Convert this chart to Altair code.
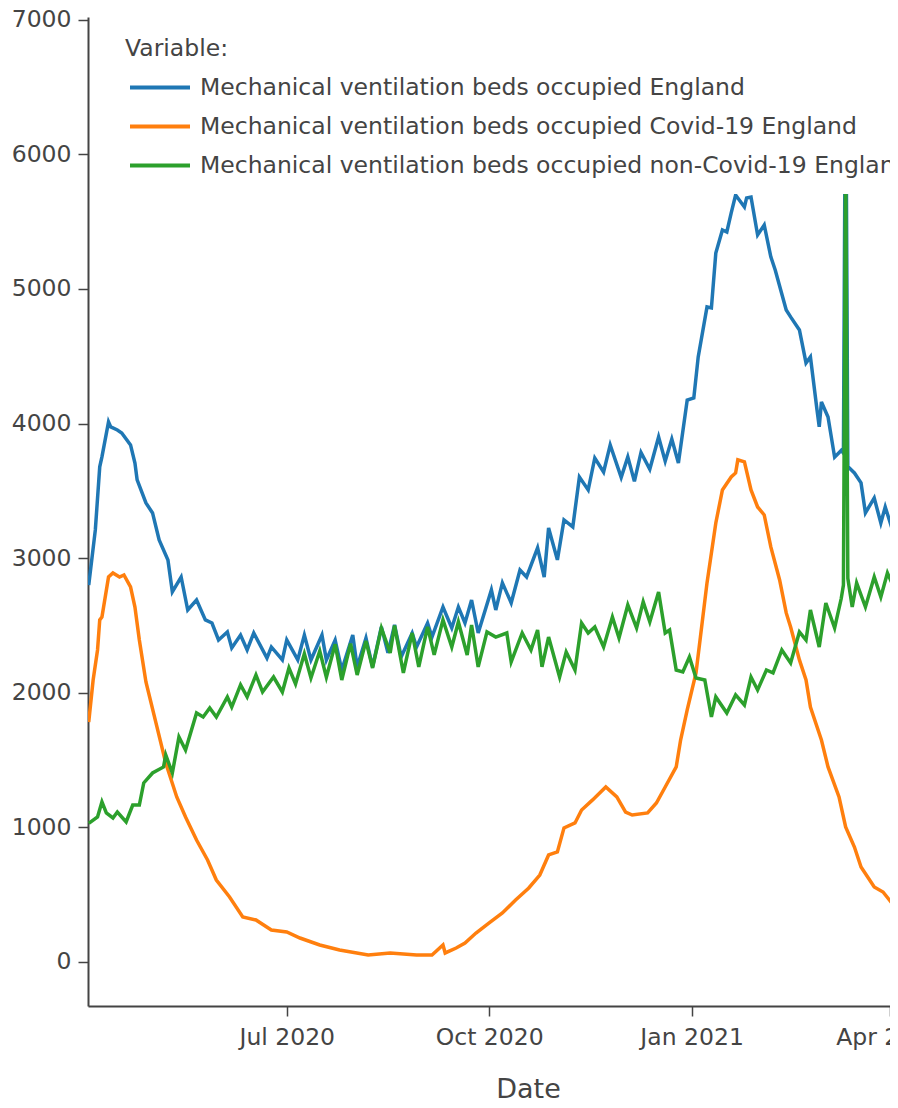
import altair as alt
import pandas as pd

# Series names (legend order) and colours
SERIES = [
    "Mechanical ventilation beds occupied England",
    "Mechanical ventilation beds occupied Covid-19 England",
    "Mechanical ventilation beds occupied non-Covid-19 England",
]
COLORS = ["#1f77b4", "#ff7f0e", "#2ca02c"]

START = "2020-04-02"  # day 0 of the series

# day offsets from START and values
BLUE_DAYS = [0, 3, 5, 6, 9, 10, 13, 15, 19, 21, 22, 26, 29, 32, 36, 38, 42, 45, 49, 53, 56, 59, 63, 65, 69, 72, 75,
             81, 83, 88, 90, 95, 98, 101, 106, 108, 112, 115, 120, 122, 126, 129, 133, 136, 139, 142, 147, 149, 154,
             156, 161, 165, 168, 171, 174, 177, 183, 185, 188, 192, 196, 199, 204, 207, 209, 213, 216, 220, 223, 227,
             230, 234, 237, 242, 245, 248, 251, 255, 259, 262, 265, 268, 272, 275, 277, 281, 283, 285, 288, 290, 292,
             294, 298, 299, 301, 304, 307, 310, 312, 317, 319, 323, 326, 328, 331, 332, 333, 336, 339, 342, 343, 344,
             345, 348, 351, 353, 357, 360, 362, 365, 367, 370]
BLUE_VALS = [2800, 3210, 3678, 3752, 4012, 3975, 3952, 3930, 3841, 3707, 3581, 3410, 3336, 3135, 2986, 2750, 2860,
             2615, 2689, 2541, 2518, 2392, 2452, 2333, 2429, 2318, 2444, 2258, 2340, 2244, 2392, 2244, 2429, 2244,
             2429, 2244, 2392, 2169, 2429, 2192, 2407, 2192, 2489, 2296, 2504, 2266, 2444, 2340, 2518, 2414, 2637,
             2481, 2637, 2518, 2689, 2444, 2764, 2615, 2816, 2667, 2912, 2860, 3076, 2860, 3224, 2987, 3284, 3232,
             3603, 3507, 3744, 3640, 3841, 3600, 3752, 3570, 3785, 3660, 3900, 3720, 3885, 3707, 4175, 4190, 4495,
             4866, 4859, 5267, 5438, 5423, 5565, 5698, 5609, 5676, 5683, 5401, 5475, 5238, 5141, 4844, 4792, 4695,
             4450, 4495, 4101, 3975, 4160, 4049, 3750, 3800, 3780, 6900, 3680, 3633, 3559, 3336, 3447, 3261, 3380,
             3224, 3330, 3250]

ORANGE_DAYS = [0, 2, 4, 5, 6, 9, 11, 14, 16, 19, 21, 23, 26, 31, 35, 40, 44, 49, 54, 58, 64, 70, 76, 83, 90, 96,
               105, 114, 127, 137, 149, 156, 161, 162, 167, 171, 176, 182, 188, 194, 200, 205, 209, 213, 216, 221,
               224, 229, 235, 240, 244, 247, 254, 258, 262, 267, 269, 272, 276, 278, 281, 285, 288, 292, 294, 295,
               298, 301, 304, 307, 310, 314, 317, 319, 323, 326, 328, 333, 336, 341, 344, 348, 351, 357, 361, 365,
               367, 370]
ORANGE_VALS = [1783, 2095, 2318, 2541, 2563, 2860, 2890, 2860, 2875, 2786, 2637, 2392, 2080, 1746, 1478, 1226, 1077,
               906, 758, 609, 483, 334, 312, 238, 223, 178, 126, 89, 52, 67, 52, 52, 126, 67, 104, 141, 215, 290, 364,
               461, 550, 646, 795, 817, 996, 1033, 1129, 1204, 1300, 1226, 1114, 1092, 1107, 1181, 1300, 1449, 1649,
               1872, 2147, 2414, 2816, 3261, 3507, 3603, 3633, 3730, 3715, 3507, 3380, 3321, 3083, 2838, 2593, 2489,
               2244, 2095, 1894, 1649, 1449, 1226, 1003, 854, 706, 557, 520, 438, 420, 400]

GREEN_DAYS = [0, 4, 6, 8, 11, 13, 17, 20, 23, 25, 29, 34, 35, 38, 41, 44, 49, 52, 55, 58, 63, 65, 69, 72, 76, 79, 84,
              88, 91, 94, 98, 101, 105, 108, 112, 115, 119, 122, 126, 129, 133, 137, 139, 143, 147, 150, 154, 157,
              161, 165, 168, 172, 174, 177, 181, 185, 190, 192, 197, 201, 204, 206, 209, 214, 217, 221, 224, 227,
              230, 234, 238, 241, 245, 249, 252, 255, 259, 262, 264, 267, 270, 273, 276, 280, 283, 285, 290, 294,
              298, 301, 304, 308, 311, 315, 319, 323, 326, 328, 332, 335, 339, 342, 343, 344, 345, 347, 349, 353,
              357, 360, 363, 365, 367, 370]
GREEN_VALS = [1030, 1077, 1189, 1107, 1070, 1114, 1040, 1166, 1166, 1330, 1404, 1449, 1538, 1404, 1672, 1575, 1850,
              1820, 1887, 1820, 1969, 1894, 2058, 1969, 2132, 2006, 2117, 2006, 2184, 2065, 2290, 2110, 2310, 2115,
              2360, 2095, 2365, 2132, 2385, 2184, 2480, 2296, 2500, 2147, 2444, 2192, 2489, 2281, 2541, 2340, 2526,
              2281, 2504, 2192, 2452, 2414, 2444, 2229, 2444, 2318, 2466, 2192, 2414, 2117, 2303, 2169, 2518, 2444,
              2489, 2340, 2563, 2407, 2652, 2481, 2675, 2526, 2749, 2444, 2466, 2169, 2155, 2266, 2110, 2095, 1820,
              1969, 1850, 1984, 1909, 2117, 2021, 2169, 2147, 2318, 2221, 2452, 2392, 2615, 2340, 2667, 2481, 2700,
              2800, 6000, 2850, 2637, 2816, 2637, 2860, 2712, 2890, 2816, 2880, 2850]

Y_TICKS = [0, 1000, 2000, 3000, 4000, 5000, 6000, 7000]
X_TICKS = [(2020, 7), (2020, 10), (2021, 1), (2021, 4)]


def frame(days, vals, name):
    d = pd.Timestamp(START) + pd.to_timedelta(days, unit="D")
    return pd.DataFrame({"date": d.strftime("%Y-%m-%d"), "value": vals, "series": name})


df = pd.concat([
    frame(BLUE_DAYS, BLUE_VALS, SERIES[0]),
    frame(ORANGE_DAYS, ORANGE_VALS, SERIES[1]),
    frame(GREEN_DAYS, GREEN_VALS, SERIES[2]),
])

TXT = "#444444"

x_enc = alt.X(
    "date:T",
    scale=alt.Scale(type="utc", nice=False,
                    domain=[alt.DateTime(year=2020, month=4, date=1, hours=16, utc=True),
                            alt.DateTime(year=2021, month=4, date=1, hours=4, utc=True)]),
    axis=alt.Axis(values=[alt.DateTime(year=y, month=m, date=1, utc=True) for y, m in X_TICKS],
                  labelExpr="utcFormat(datum.value, '%b %Y')", title="Date", tickSize=10,
                  labelPadding=9, labelFontSize=23.5, titleFontSize=27, titleFontWeight="normal",
                  titlePadding=28, titleX=440, labelFlush=False, labelOverlap=False, grid=False),
)
y_enc = alt.Y(
    "value:Q",
    scale=alt.Scale(domain=[-327, 7020], nice=False, zero=False),
    axis=alt.Axis(values=Y_TICKS, format="d", title=None, tickSize=10, labelPadding=7,
                  labelFontSize=23.5, grid=False),
)
color_enc = alt.Color(
    "series:N",
    scale=alt.Scale(domain=SERIES, range=COLORS),
    legend=alt.Legend(title="Variable:", orient="none", legendX=20, legendY=3, direction="vertical",
                      symbolType="M-3,0H3", symbolSize=400, symbolStrokeWidth=4, symbolOffset=23,
                      labelOffset=28, labelLimit=3000, labelFontSize=23.5, titleFontSize=23.5,
                      titleFontWeight="normal", titleColor=TXT, labelColor=TXT, padding=17,
                      fillColor="white", rowPadding=15, titlePadding=15, zindex=1),
)

layers = []
for name in SERIES:
    layers.append(
        alt.Chart(df).transform_filter(alt.datum.series == name)
        .mark_line(strokeWidth=3.5, clip=True)
        .encode(x=x_enc, y=y_enc, color=color_enc)
    )

chart = (
    alt.layer(*layers)
    .properties(width=802, height=989,
                autosize=alt.AutoSizeParams(type="none"),
                padding={"left": 80, "top": 9, "right": 0, "bottom": 100})
    .configure(font="DejaVu Sans")
    .configure_view(stroke=None)
    .configure_axis(domainColor=TXT, tickColor=TXT, labelColor=TXT, titleColor=TXT,
                    domainWidth=2, tickWidth=1.5)
)

chart.save("out.html", embed_options={"renderer": "svg", "actions": False})
